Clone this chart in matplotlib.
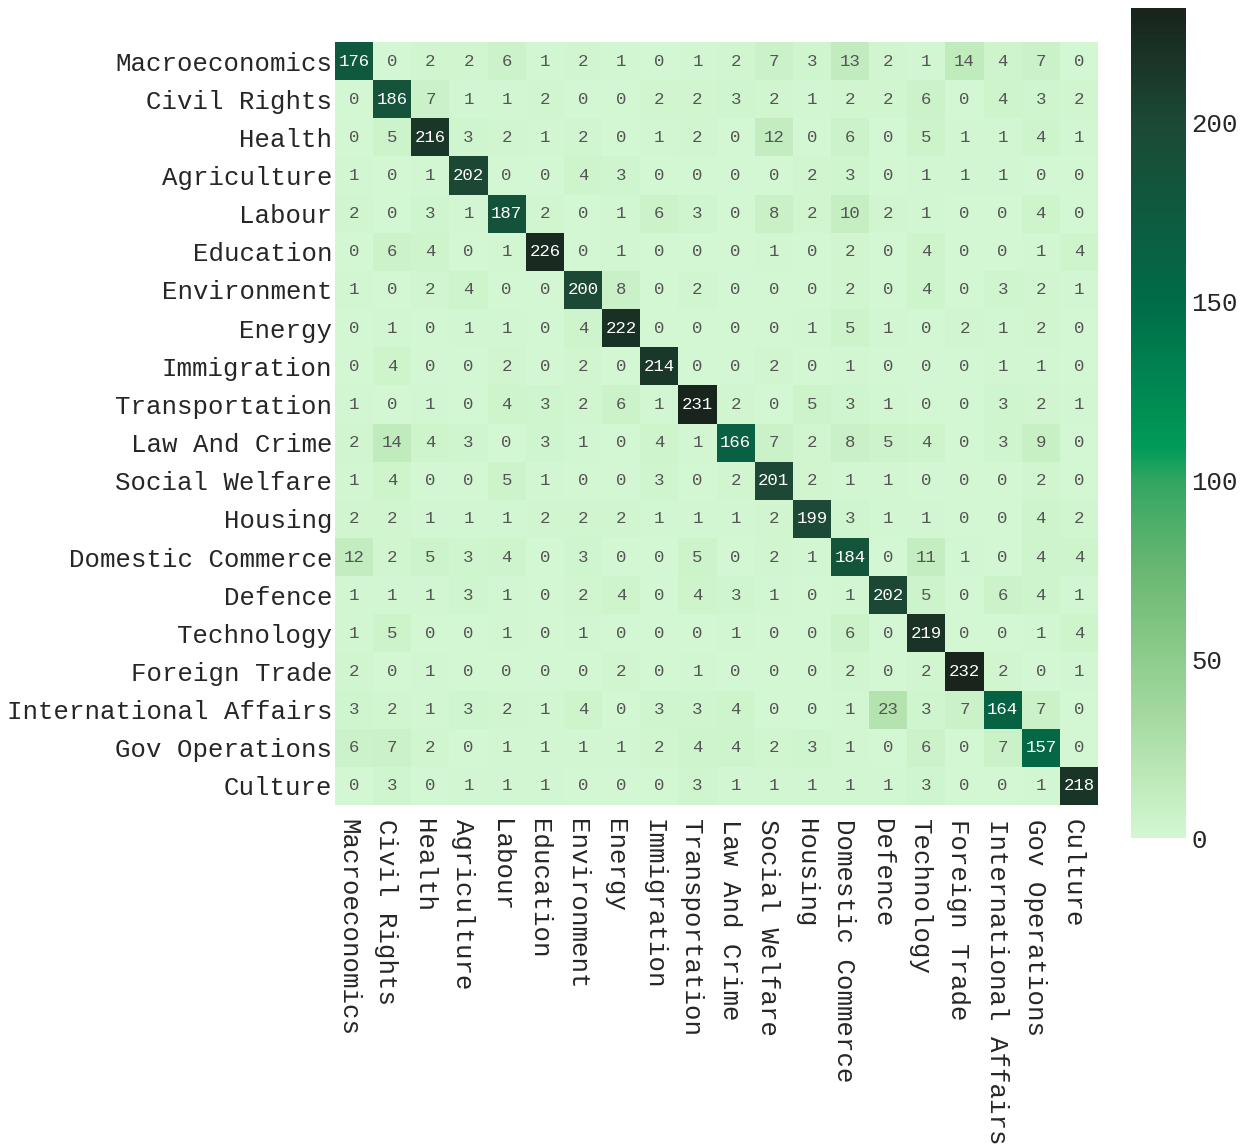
import numpy as np
import matplotlib
matplotlib.use("Agg")
import matplotlib.pyplot as plt
import matplotlib.transforms as mtransforms
from matplotlib.colors import LinearSegmentedColormap

categories = ["Macroeconomics", "Civil Rights", "Health", "Agriculture", "Labour",
              "Education", "Environment", "Energy", "Immigration", "Transportation",
              "Law And Crime", "Social Welfare", "Housing", "Domestic Commerce",
              "Defence", "Technology", "Foreign Trade", "International Affairs",
              "Gov Operations", "Culture"]

row_macro = [176, 0, 2, 2, 6, 1, 2, 1, 0, 1, 2, 7, 3, 13, 2, 1, 14, 4, 7, 0]
row_civil = [0, 186, 7, 1, 1, 2, 0, 0, 2, 2, 3, 2, 1, 2, 2, 6, 0, 4, 3, 2]
row_health = [0, 5, 216, 3, 2, 1, 2, 0, 1, 2, 0, 12, 0, 6, 0, 5, 1, 1, 4, 1]
row_agri = [1, 0, 1, 202, 0, 0, 4, 3, 0, 0, 0, 0, 2, 3, 0, 1, 1, 1, 0, 0]
row_labour = [2, 0, 3, 1, 187, 2, 0, 1, 6, 3, 0, 8, 2, 10, 2, 1, 0, 0, 4, 0]
row_edu = [0, 6, 4, 0, 1, 226, 0, 1, 0, 0, 0, 1, 0, 2, 0, 4, 0, 0, 1, 4]
row_env = [1, 0, 2, 4, 0, 0, 200, 8, 0, 2, 0, 0, 0, 2, 0, 4, 0, 3, 2, 1]
row_energy = [0, 1, 0, 1, 1, 0, 4, 222, 0, 0, 0, 0, 1, 5, 1, 0, 2, 1, 2, 0]
row_immig = [0, 4, 0, 0, 2, 0, 2, 0, 214, 0, 0, 2, 0, 1, 0, 0, 0, 1, 1, 0]
row_trans = [1, 0, 1, 0, 4, 3, 2, 6, 1, 231, 2, 0, 5, 3, 1, 0, 0, 3, 2, 1]
row_law = [2, 14, 4, 3, 0, 3, 1, 0, 4, 1, 166, 7, 2, 8, 5, 4, 0, 3, 9, 0]
row_welfare = [1, 4, 0, 0, 5, 1, 0, 0, 3, 0, 2, 201, 2, 1, 1, 0, 0, 0, 2, 0]
row_housing = [2, 2, 1, 1, 1, 2, 2, 2, 1, 1, 1, 2, 199, 3, 1, 1, 0, 0, 4, 2]
row_domestic = [12, 2, 5, 3, 4, 0, 3, 0, 0, 5, 0, 2, 1, 184, 0, 11, 1, 0, 4, 4]
row_defence = [1, 1, 1, 3, 1, 0, 2, 4, 0, 4, 3, 1, 0, 1, 202, 5, 0, 6, 4, 1]
row_tech = [1, 5, 0, 0, 1, 0, 1, 0, 0, 0, 1, 0, 0, 6, 0, 219, 0, 0, 1, 4]
row_foreign = [2, 0, 1, 0, 0, 0, 0, 2, 0, 1, 0, 0, 0, 2, 0, 2, 232, 2, 0, 1]
row_intl = [3, 2, 1, 3, 2, 1, 4, 0, 3, 3, 4, 0, 0, 1, 23, 3, 7, 164, 7, 0]
row_gov = [6, 7, 2, 0, 1, 1, 1, 1, 2, 4, 4, 2, 3, 1, 0, 6, 0, 7, 157, 0]
row_culture = [0, 3, 0, 1, 1, 1, 0, 0, 0, 3, 1, 1, 1, 1, 1, 3, 0, 0, 1, 218]

colorbar_ticks = [0, 50, 100, 150, 200]

matrix = np.array([row_macro, row_civil, row_health, row_agri, row_labour, row_edu,
                   row_env, row_energy, row_immig, row_trans, row_law, row_welfare,
                   row_housing, row_domestic, row_defence, row_tech, row_foreign,
                   row_intl, row_gov, row_culture])

cmap = LinearSegmentedColormap.from_list("greens_custom", [
    (0.00, "#d3f7d2"),
    (0.11, "#b0e0ab"),
    (0.22, "#8ccb8a"),
    (0.32, "#6ab872"),
    (0.43, "#33a562"),
    (0.47, "#009b58"),
    (0.65, "#006b48"),
    (0.86, "#1c4a36"),
    (1.00, "#18241c"),
])

FONT = ["Liberation Mono", "DejaVu Sans Mono"]
TXT = "#262626"

fig = plt.figure(figsize=(12.48, 11.44), dpi=100)
W, H = 1248, 1144
ax = fig.add_axes([335 / W, 1 - 805 / H, 763 / W, 763 / H])
cax = fig.add_axes([1131 / W, 1 - 838 / H, 55 / W, 830 / H])

vmin, vmax = 0, matrix.max()
n = len(categories)
mesh = ax.pcolormesh(np.arange(n + 1), np.arange(n + 1), matrix, cmap=cmap,
                     vmin=vmin, vmax=vmax)
ax.set_xlim(0, n)
ax.set_ylim(n, 0)

for i in range(n):
    for j in range(n):
        v = matrix[i, j]
        rgba = cmap((v - vmin) / (vmax - vmin))
        lum = 0.2126 * rgba[0] + 0.7152 * rgba[1] + 0.0722 * rgba[2]
        color = "white" if lum < 0.408 else "#555555"
        ax.text(j + 0.5, i + 0.5, str(v), ha="center", va="center",
                fontsize=12.5, color=color, family=FONT)

ax.set_xticks(np.arange(n) + 0.5)
ax.set_yticks(np.arange(n) + 0.5)
ax.set_xticklabels(categories, rotation=-90, fontsize=18.5, family=FONT, va="top",
                   color=TXT)
ax.set_yticklabels(categories, fontsize=18.5, family=FONT, color=TXT)
ax.tick_params(axis="y", length=0, pad=2)
ax.tick_params(axis="x", length=0, pad=10)
offset = mtransforms.ScaledTranslation(-6 / 100, 0, fig.dpi_scale_trans)
for lbl in ax.get_xticklabels():
    lbl.set_transform(lbl.get_transform() + offset)
for s in ax.spines.values():
    s.set_visible(False)

cb = fig.colorbar(mesh, cax=cax, ticks=colorbar_ticks)
cb.outline.set_visible(False)
cb.ax.tick_params(length=0, labelsize=18.5, pad=4, labelcolor=TXT)
for t in cb.ax.get_yticklabels():
    t.set_family(FONT)

fig.savefig("out.png", dpi=100)
